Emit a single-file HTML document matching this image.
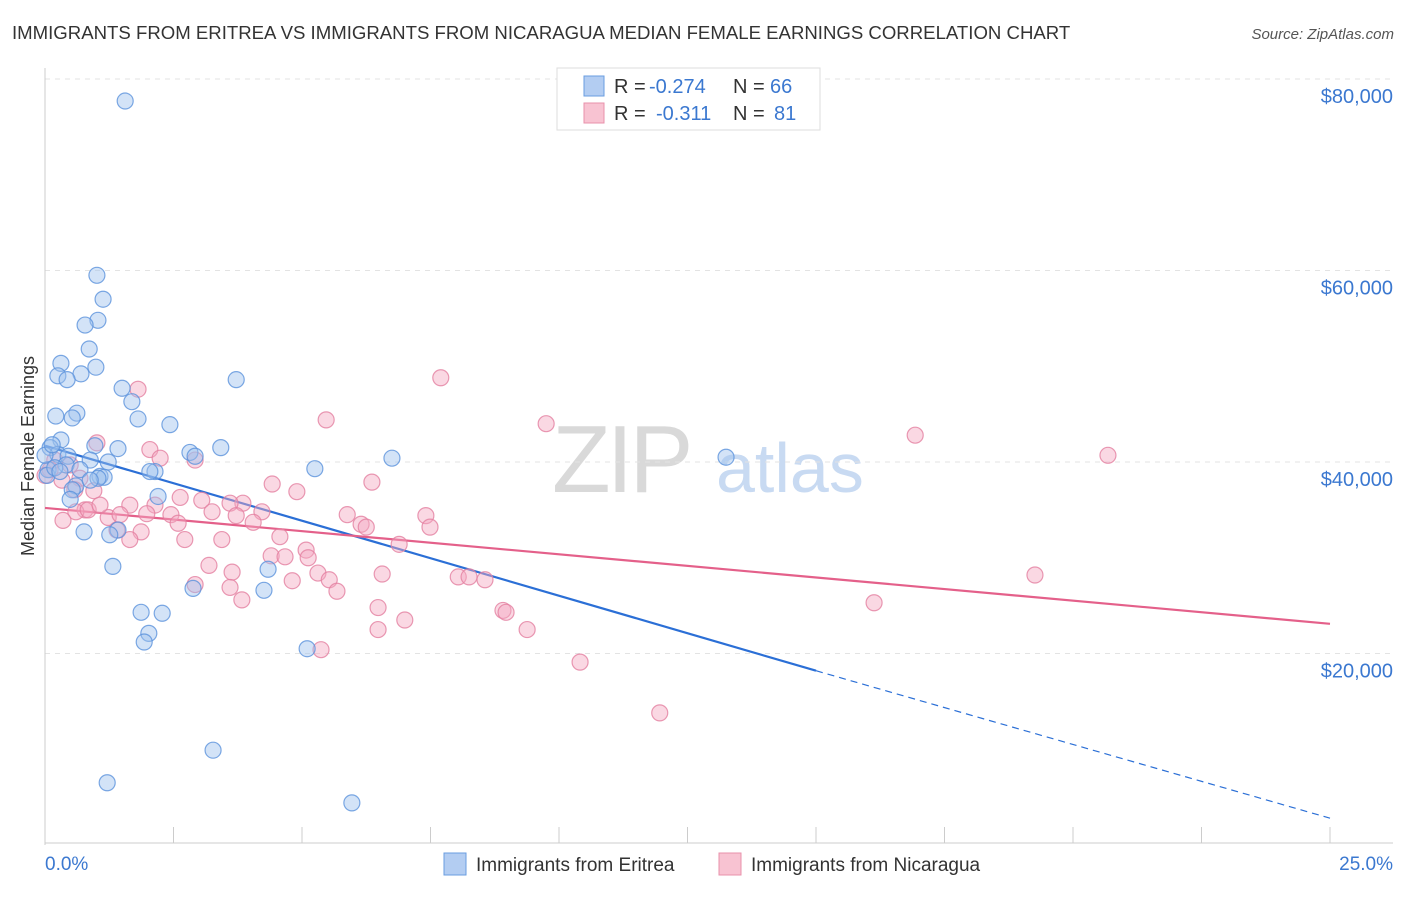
<!DOCTYPE html>
<html><head><meta charset="utf-8"><style>
body{margin:0;background:#fff;font-family:"Liberation Sans",sans-serif}
svg text{font-family:"Liberation Sans",sans-serif}
</style></head><body>
<svg id="chart" width="1406" height="892" viewBox="0 0 1406 892" xmlns="http://www.w3.org/2000/svg">
<text x="12" y="39" font-size="18.6" fill="#333">IMMIGRANTS FROM ERITREA VS IMMIGRANTS FROM NICARAGUA MEDIAN FEMALE EARNINGS CORRELATION CHART</text>
<text x="1394" y="39" font-size="15" fill="#555" text-anchor="end" font-style="italic">Source: ZipAtlas.com</text>
<g>
<text x="552" y="492" font-size="96" fill="#d9d9d9" font-family="Liberation Serif" letter-spacing="-4">ZIP</text>
<text x="716" y="492" font-size="70" fill="#c8daf2">atlas</text>
</g>
<g id="grid"></g>
<g id="axes"></g>
<g id="trends"></g>
<g id="points"></g>
<text transform="translate(34,456) rotate(-90)" font-size="18" fill="#333" text-anchor="middle">Median Female Earnings</text>
<g>
<rect x="557" y="68" width="263" height="62" fill="#fff" stroke="#ddd"/>
<rect x="584" y="76" width="20" height="20" fill="#b3cdf2" stroke="#6a9de0"/>
<rect x="584" y="103" width="20" height="20" fill="#f8c3d2" stroke="#e890ab"/>
<text x="614" y="93" font-size="20" fill="#333">R =</text>
<text x="649" y="93" font-size="20" fill="#3b78d0">-0.274</text>
<text x="733" y="93" font-size="20" fill="#333">N =</text>
<text x="770" y="93" font-size="20" fill="#3b78d0">66</text>
<text x="614" y="120" font-size="20" fill="#333">R =</text>
<text x="656" y="120" font-size="20" fill="#3b78d0">-0.311</text>
<text x="733" y="120" font-size="20" fill="#333">N =</text>
<text x="774" y="120" font-size="20" fill="#3b78d0">81</text>
</g>
<g>
<rect x="444" y="853" width="22" height="22" fill="#b3cdf2" stroke="#6a9de0"/>
<text x="476" y="871" font-size="19" fill="#333">Immigrants from Eritrea</text>
<rect x="719" y="853" width="22" height="22" fill="#f8c3d2" stroke="#e890ab"/>
<text x="751" y="871" font-size="19" fill="#333">Immigrants from Nicaragua</text>
</g>
</svg>
<script>
const yTicks=[20000,40000,60000,80000];
const yTickLabels=["$20,000","$40,000","$60,000","$80,000"];
const xTicks=[0,2.5,5,7.5,10,12.5,15,17.5,20,22.5,25];
const xEndLabels=["0.0%","25.0%"];
const eritreaX=[1.56,1.01,1.13,1.03,0.78,0.86,0.31,0.99,0.70,0.25,0.43,3.72,1.50,1.69,0.21,0.62,0.53,1.81,2.43,0.97,1.42,0.31,3.42,2.82,2.92,6.75,13.25,0.10,0.25,0.45,0.88,1.23,0.06,0.41,0.68,2.14,2.04,5.25,1.07,1.15,1.03,0.60,0.53,0.04,2.20,0.49,1.42,0.76,1.26,4.34,1.32,2.88,4.26,1.87,2.28,2.02,1.93,5.10,3.27,1.21,5.97,0.0,0.19,0.29,0.14,0.88];
const eritreaY=[77.7,59.5,57.0,54.8,54.3,51.8,50.3,49.9,49.2,49.0,48.6,48.6,47.7,46.3,44.8,45.1,44.6,44.5,43.9,41.7,41.4,42.3,41.5,41.0,40.6,40.4,40.5,41.5,40.8,40.6,40.2,40.0,39.2,39.7,39.2,39.0,39.0,39.3,38.5,38.4,38.3,37.5,37.1,38.6,36.4,36.1,32.9,32.7,32.4,28.8,29.1,26.8,26.6,24.3,24.2,22.1,21.2,20.5,9.9,6.5,4.4,40.7,39.4,39.0,41.8,38.1];
const nicaraguaX=[7.70,1.81,5.47,9.75,1.01,2.04,2.92,2.24,16.93,20.68,0.19,0.49,0.10,0.33,0.68,6.36,4.42,0.95,4.90,3.05,2.63,3.85,1.65,2.14,3.60,0.78,0.60,1.23,1.46,1.98,2.45,3.25,3.72,4.22,5.88,6.15,7.41,7.49,2.59,6.25,4.05,1.40,1.87,2.72,3.44,4.57,6.89,5.08,5.12,4.40,4.67,3.19,3.64,5.31,6.56,4.81,5.53,8.04,8.25,8.56,19.26,2.92,3.60,5.68,3.83,6.48,8.91,8.97,16.13,7.00,6.48,9.38,5.37,10.41,11.96,0.84,1.07,1.65,0.35,0.58,0.0];
const nicaraguaY=[48.8,47.6,44.4,44.0,42.0,41.3,40.2,40.4,42.8,40.7,40.2,39.7,39.2,38.1,38.3,37.9,37.7,37.0,36.9,36.0,36.3,35.7,35.5,35.5,35.7,35.0,34.8,34.2,34.5,34.6,34.5,34.8,34.4,34.8,34.5,33.5,34.4,33.2,33.6,33.2,33.7,32.9,32.7,31.9,31.9,32.2,31.4,30.8,30.0,30.2,30.1,29.2,28.5,28.4,28.3,27.6,27.7,28.0,28.0,27.7,28.2,27.2,26.9,26.5,25.6,24.8,24.5,24.3,25.3,23.5,22.5,22.5,20.4,19.1,13.8,35.0,35.5,31.9,33.9,37.1,38.6];
const eritreaTrend=[[0,41.7],[15,18.2],[25,2.8]];
const nicaraguaTrend=[[0,35.2],[25,23.1]];
const NS="http://www.w3.org/2000/svg";
const X0=45,X1=1330,Y0=845,PXK=191.5/20;
function sx(p){return X0+(X1-X0)*p/25;}
function sy(k){return Y0-k*PXK;}
function mk(tag,attrs,parent){const e=document.createElementNS(NS,tag);for(const k in attrs)e.setAttribute(k,attrs[k]);parent.appendChild(e);return e;}
const grid=document.getElementById('grid'),axes=document.getElementById('axes'),tr=document.getElementById('trends'),pts=document.getElementById('points');
yTicks.forEach((v,i)=>{
 const y=sy(v/1000);
 const l=mk('line',{x1:X0,x2:1393,y1:y,y2:y,stroke:'#e3e3e3','stroke-dasharray':'5,5'},grid);
 
 
 const t=mk('text',{x:1393,y:y+24,'font-size':20,fill:'#3b78d0','text-anchor':'end'},axes);
 t.textContent=yTickLabels[i];
 
 
});
const ax=mk('line',{x1:X0,x2:X0,y1:68,y2:Y0,stroke:'#ccc'},axes);


const bx=mk('line',{x1:X0,x2:1393,y1:Y0-2,y2:Y0-2,stroke:'#ccc'},axes);


xTicks.forEach(p=>{
 const l=mk('line',{x1:sx(p),x2:sx(p),y1:Y0-2,y2:Y0-18,stroke:'#ccc'},axes);
 
 
});
const xl0=mk('text',{x:45,y:870,'font-size':19,fill:'#3b78d0'},axes);xl0.textContent=xEndLabels[0];


const xl1=mk('text',{x:1393,y:870,'font-size':19,fill:'#3b78d0','text-anchor':'end'},axes);xl1.textContent=xEndLabels[1];


function drawPts(xs,ys,fill,stroke,name){
 xs.forEach((p,i)=>{
  const c=mk('circle',{cx:sx(p),cy:sy(ys[i]),r:8,fill:fill,'fill-opacity':0.45,stroke:stroke,'stroke-opacity':0.8,'stroke-width':1.2},pts);
  
  
 });
}
drawPts(nicaraguaX,nicaraguaY,'#f4a9c0','#e47fa0','nicaragua-point');
drawPts(eritreaX,eritreaY,'#9ec0ee','#5b92dc','eritrea-point');
const e1=mk('line',{x1:sx(eritreaTrend[0][0]),y1:sy(eritreaTrend[0][1]),x2:sx(eritreaTrend[1][0]),y2:sy(eritreaTrend[1][1]),stroke:'#2b6fd6','stroke-width':2.2},tr);


const e2=mk('line',{x1:sx(eritreaTrend[1][0]),y1:sy(eritreaTrend[1][1]),x2:sx(eritreaTrend[2][0]),y2:sy(eritreaTrend[2][1]),stroke:'#2b6fd6','stroke-width':1.2,'stroke-dasharray':'7,5'},tr);


const n1=mk('line',{x1:sx(nicaraguaTrend[0][0]),y1:sy(nicaraguaTrend[0][1]),x2:sx(nicaraguaTrend[1][0]),y2:sy(nicaraguaTrend[1][1]),stroke:'#e4608a','stroke-width':2.2},tr);


</script>
</body></html>
